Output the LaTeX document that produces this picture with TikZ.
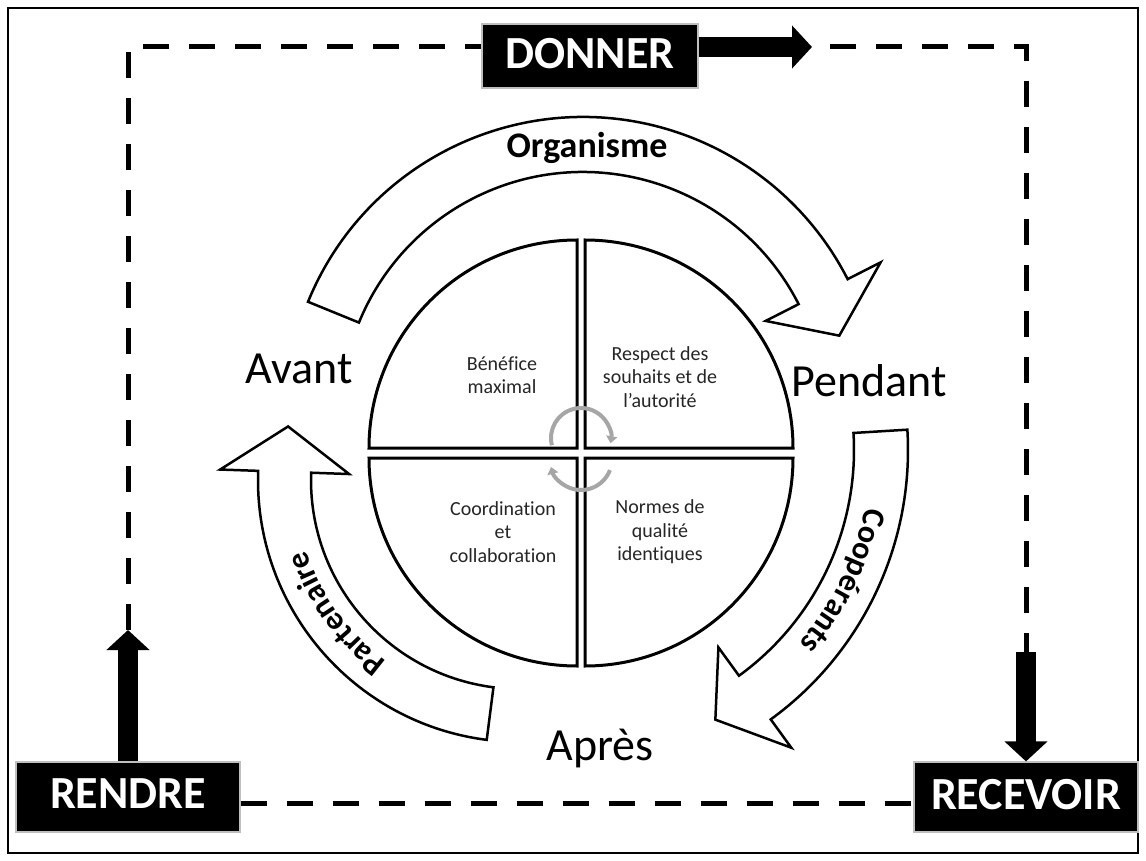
\documentclass[tikz,border=0pt]{standalone}
\usepackage{fontspec}
\setmainfont{Carlito}[Ligatures=CommonOff]
\usetikzlibrary{arrows.meta,decorations.text}
\begin{document}
\begin{tikzpicture}[x=1pt,y=1pt,
  blackbox/.style={fill=black, draw=black!25, line width=1.2pt, text=white, font=\bfseries\fontsize{46}{50}\selectfont, inner sep=0pt, text depth=6pt},
  dashline/.style={line width=5pt, dash pattern=on 26pt off 20pt},
  blockarrow/.style={line width=20pt, -{Triangle[length=20pt,width=42pt]}},
  bigarrow/.style={draw=black, fill=white, line width=2.5pt, line join=miter},
  quad/.style={draw=black, fill=white, line width=3pt},
  quadtext/.style={font=\fontsize{20}{23.5}\selectfont, align=center, text=black!85},
  phase/.style={font=\fontsize{46}{50}\selectfont, anchor=base},
  cyc/.style={draw=black!35, line width=4pt, -{Triangle[length=7pt,width=11pt]}},
  curvelabel/.style={decorate, decoration={text along path, text align=center, text={|\bfseries\fontsize{32}{36}\selectfont|#1}}}
]
\useasboundingbox (0,0) rectangle (1146,-861);
\draw[line width=1.5pt] (8,-8) rectangle (1138,-853);

% free ends of the outer loop
\coordinate (cTL) at (128,-47);
\coordinate (cTR) at (1026,-47);
\coordinate (dtip) at (812,-47);
\coordinate (rtip) at (128,-630);
\coordinate (rstart) at (1026,-652);

% boxes
\node[blackbox, minimum width=216pt, minimum height=64pt] (donner) at (590,-56) {DONNER};
\node[blackbox, minimum width=224pt, minimum height=70pt] (rendre) at (128,-797) {RENDRE};
\node[blackbox, minimum width=224pt, minimum height=70pt] (recevoir) at (1026,-797) {RECEVOIR};

% dashed loop
\draw[dashline] (rtip) -- (cTL) -- (donner.west |- cTL);
\draw[dashline, dash phase=28pt] (dtip) -- (cTR) -- (rstart);
\draw[dashline] (rendre.east |- 0,-803) -- (recevoir.west |- 0,-803);

% block arrows
\draw[blockarrow] (donner.east |- cTL) -- (dtip);
\draw[blockarrow] (rendre.north) -- (rtip);
\draw[blockarrow] (rstart) -- (recevoir.north);

% circle quadrants
\begin{scope}[shift={(581,-453)}]
  \draw[quad] (-4,5) -- (-212,5) arc[start angle=180,end angle=90,radius=208] -- cycle;
  \draw[quad] (4,5) -- (4,213) arc[start angle=90,end angle=0,radius=208] -- cycle;
  \draw[quad] (-4,-5) -- (-212,-5) arc[start angle=180,end angle=270,radius=208] -- cycle;
  \draw[quad] (4,-5) -- (212,-5) arc[start angle=0,end angle=-90,radius=208] -- cycle;
\end{scope}

\node[quadtext] (q1) at (502,-375) {Bénéfice\\maximal};
\node[quadtext] (q2) at (660,-377) {Respect des\\souhaits et de\\l’autorité};
\node[quadtext] (q3) at (503,-532) {Coordination\\et\\collaboration};
\node[quadtext] (q4) at (660,-532) {Normes de\\qualité\\identiques};

% small grey cycle arrows
\begin{scope}[shift={(581,-438)}]
  \draw[cyc] (194:30) arc[start angle=194,end angle=-10,radius=30];
\end{scope}
\begin{scope}[shift={(581,-459)}]
  \draw[cyc] (-21:31) arc[start angle=-21,end angle=-165,radius=31];
\end{scope}

% curved arrows
\begin{scope}[shift={(583,-414)}]
  \draw[bigarrow] (157.8:297) arc[start angle=157.8,end angle=27,radius=297]
    -- (27:334) -- (17:268) -- (27:205) -- (27:242)
    arc[start angle=27,end angle=157.8,radius=242] -- cycle;
\end{scope}
\node[font=\bfseries\fontsize{36}{40}\selectfont] (org) at (587,-148) {Organisme};

\begin{scope}[shift={(575,-450)}]
  \draw[bigarrow] (3.5:333) arc[start angle=3.5,end angle=-54,radius=333]
    -- (-54:368) -- (-62.5:304) -- (-54:244) -- (-54:279)
    arc[start angle=-54,end angle=3.5,radius=279] -- cycle;
  \path[curvelabel={Coopérants}] (0:296) arc[start angle=0,end angle=-52,radius=296];
\end{scope}

\begin{scope}[shift={(520,-480)}]
  \draw[bigarrow] (262.7:262) arc[start angle=262.7,end angle=178,radius=262]
    -- (178:300) -- (167:238) -- (178:171) -- (178:209)
    arc[start angle=178,end angle=262.7,radius=209] -- cycle;
  \path[curvelabel={Partenaire}] (250:225) arc[start angle=250,end angle=182,radius=225];
\end{scope}

% phase labels
\node[phase] (avant) at (299,-383) {Avant};
\node[phase] (pendant) at (869,-396) {Pendant};
\node[phase] (apres) at (600,-760) {Après};
\end{tikzpicture}
\end{document}
